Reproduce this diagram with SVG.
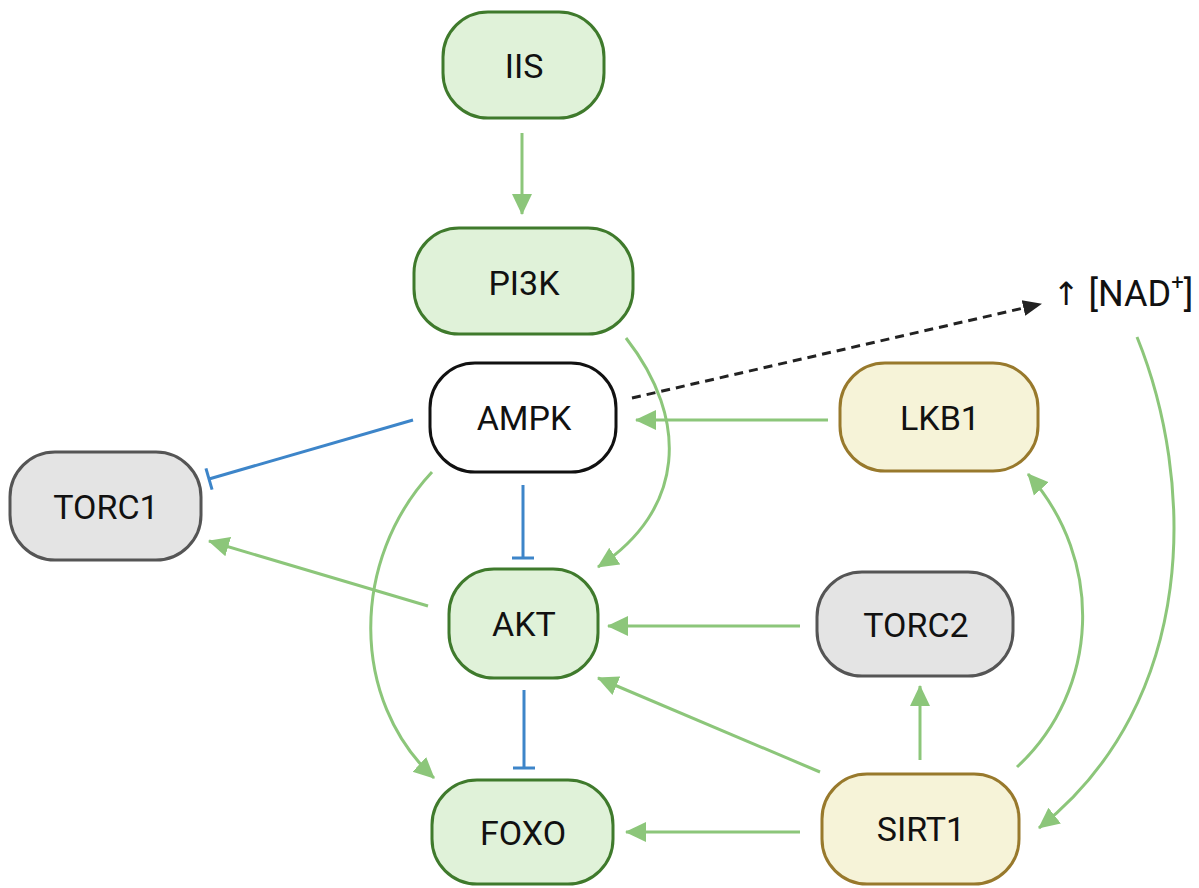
<svg xmlns="http://www.w3.org/2000/svg" width="1199" height="888" viewBox="0 0 1199 888">
<style>
  .lbl { font-family: Roboto, "Liberation Sans", sans-serif; font-size: 34px; fill: #111; text-anchor: middle; dominant-baseline: central; }
  .green rect { fill: #e0f2d9; stroke: #3f7a2c; stroke-width: 3; }
  .yellow rect { fill: #f6f3d8; stroke: #98792c; stroke-width: 3; }
  .grey rect { fill: #e4e4e4; stroke: #555; stroke-width: 3; }
  .white rect { fill: #fff; stroke: #111; stroke-width: 3; }
  .act { fill: none; stroke: #8cc67a; stroke-width: 3; marker-end: url(#ah); }
  .inh { fill: none; stroke: #3d85c9; stroke-width: 3; marker-end: url(#tb); }
  .dash { fill: none; stroke: #222; stroke-width: 3; stroke-dasharray: 9 6; marker-end: url(#ahk); }
</style>
<defs>
  <marker id="ah" markerUnits="userSpaceOnUse" markerWidth="22" markerHeight="22" viewBox="0 0 22 22" refX="20" refY="11" orient="auto">
    <path d="M0,1 L21,11 L0,21 Z" fill="#8cc67a"/>
  </marker>
  <marker id="ahk" markerUnits="userSpaceOnUse" markerWidth="20" markerHeight="20" viewBox="0 0 20 20" refX="18" refY="10" orient="auto">
    <path d="M0,2 L19,10 L0,18 Z" fill="#222"/>
  </marker>
  <marker id="tb" markerUnits="userSpaceOnUse" markerWidth="6" markerHeight="24" viewBox="0 0 6 24" refX="3" refY="12" orient="auto">
    <path d="M3,1 L3,23" stroke="#3d85c9" stroke-width="3"/>
  </marker>
</defs>

<g id="connectors">
  <path class="act" d="M522,133 L522,214"/>
  <path class="act" d="M626,338 C690,420 685,510 598,567"/>
  <path class="act" d="M828,420 L636,420"/>
  <path class="inh" d="M413,420 L209,479"/>
  <path class="inh" d="M523,485 L523,558"/>
  <path class="act" d="M432,472 C350,560 350,700 434,778"/>
  <path class="act" d="M428,606 L209,541"/>
  <path class="inh" d="M524,690 L524,768"/>
  <path class="act" d="M800,626 L608,626"/>
  <path class="act" d="M820,772 L598,678"/>
  <path class="act" d="M920,760 L920,686"/>
  <path class="act" d="M800,832 L626,832"/>
  <path class="act" d="M1017,767 C1100,690 1105,560 1028,474"/>
  <path class="act" d="M1137,337 C1195,480 1200,700 1039,828"/>
  <path class="dash" d="M632,398 L1041,304"/>
</g>

<g id="IIS" class="green"><rect x="443" y="12" width="161" height="106" rx="45"/><text class="lbl" x="524" y="66">IIS</text></g>
<g id="PI3K" class="green"><rect x="414" y="228" width="219" height="106" rx="45"/><text class="lbl" x="524" y="283">PI3K</text></g>
<g id="AMPK" class="white"><rect x="430" y="363" width="186" height="109" rx="45"/><text class="lbl" x="524" y="418">AMPK</text></g>
<g id="TORC1" class="grey"><rect x="10" y="452" width="191" height="108" rx="45"/><text class="lbl" x="106" y="507">TORC1</text></g>
<g id="AKT" class="green"><rect x="449" y="569" width="149" height="109" rx="45"/><text class="lbl" x="524" y="624">AKT</text></g>
<g id="FOXO" class="green"><rect x="432" y="780" width="181" height="104" rx="45"/><text class="lbl" x="523" y="833">FOXO</text></g>
<g id="LKB1" class="yellow"><rect x="840" y="363" width="198" height="108" rx="45"/><text class="lbl" x="940" y="418">LKB1</text></g>
<g id="TORC2" class="grey"><rect x="817" y="572" width="196" height="104" rx="45"/><text class="lbl" x="916" y="625">TORC2</text></g>
<g id="SIRT1" class="yellow"><rect x="822" y="774" width="197" height="110" rx="45"/><text class="lbl" x="921" y="829">SIRT1</text></g>
<g id="NAD"><text class="lbl" x="1123" y="294" style="font-size:36px"><tspan font-family="'DejaVu Sans', sans-serif" font-size="32">↑</tspan> [NAD<tspan font-size="22" dy="-12">+</tspan><tspan dy="12">]</tspan></text></g>
</svg>
